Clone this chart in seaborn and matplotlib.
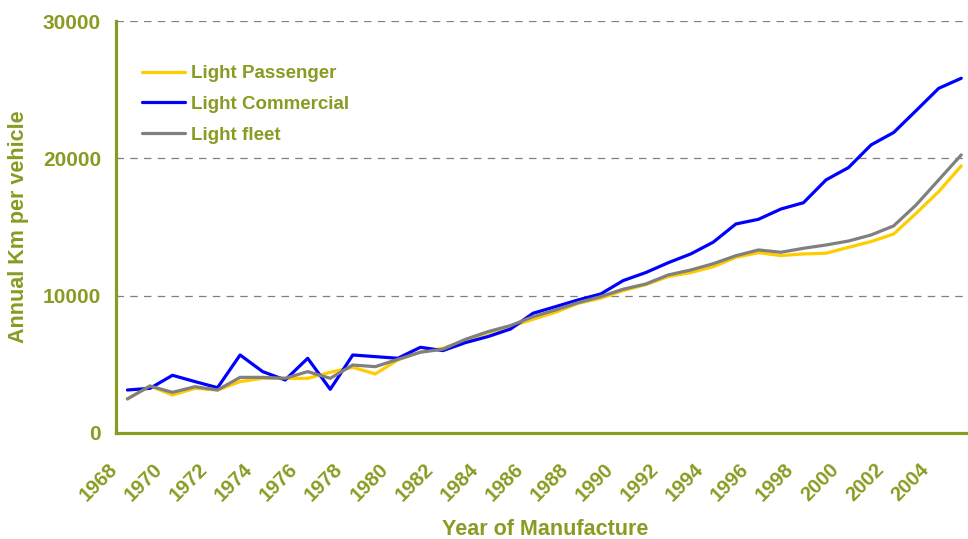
import numpy as np
import pandas as pd
import matplotlib
matplotlib.use("Agg")
import matplotlib.pyplot as plt
import matplotlib.transforms as mtransforms
import seaborn as sns

# data
years = list(range(1968, 2006))
light_passenger = [2500, 3420, 2770, 3250, 3130, 3740, 3980, 3980, 3980, 4420,
                   4780, 4300, 5320, 5900, 6170, 6750, 7300, 7750, 8280, 8790,
                   9440, 9810, 10370, 10800, 11390, 11680, 12110, 12790, 13130, 12920,
                   13040, 13090, 13520, 13940, 14490, 16000, 17580, 19450]
light_commercial = [3130, 3250, 4200, 3740, 3300, 5680, 4470, 3860, 5440, 3180,
                    5680, 5560, 5440, 6240, 6000, 6580, 7020, 7570, 8720, 9200,
                    9690, 10120, 11100, 11680, 12400, 13040, 13900, 15220, 15560, 16310,
                    16770, 18430, 19330, 20980, 21880, 23480, 25100, 25830]
light_fleet = [2475, 3420, 2960, 3370, 3130, 4050, 4050, 3980, 4470, 3980,
               4950, 4830, 5360, 5880, 6100, 6820, 7380, 7820, 8470, 8960,
               9490, 9930, 10470, 10850, 11510, 11870, 12330, 12910, 13330, 13160,
               13450, 13690, 13980, 14420, 15080, 16610, 18430, 20250]
series_names = ["Light Passenger", "Light Commercial", "Light fleet"]
series_colors = ["#FFCC00", "#0000FF", "#808080"]

df = pd.DataFrame({"year": years,
                   "Light Passenger": light_passenger,
                   "Light Commercial": light_commercial,
                   "Light fleet": light_fleet})
long_df = df.melt(id_vars="year", var_name="series", value_name="km")

olive = "#8A9A22"

sns.set_style("white")
plt.rcParams["font.family"] = ["Liberation Sans", "DejaVu Sans"]

fig = plt.figure(figsize=(9.68, 5.39), dpi=100)
ax = fig.add_axes([0.12, 0.1967, 0.88, 0.7643])

sns.lineplot(data=long_df, x="year", y="km", hue="series", hue_order=series_names,
             palette=series_colors, linewidth=2.3, ax=ax)

ax.set_xlim(1967.5, 2005.3)
ax.set_ylim(0, 30000)

# gridlines
ax.set_yticks([0, 10000, 20000, 30000])
ax.yaxis.grid(True, linestyle=(0, (6, 5)), color="#808080", linewidth=0.9)
ax.set_axisbelow(True)

# x ticks: marks between categories, labels on even years (drawn as text, Excel style)
ax.set_xticks(np.arange(1967.5, 2005.5, 1.0))
ax.set_xticklabels([])
shift = mtransforms.ScaledTranslation(-6 / 100, -27 / 100, fig.dpi_scale_trans)
for y in years[::2]:
    ax.text(y, 0, str(y), transform=ax.get_xaxis_transform() + shift,
            rotation=45, ha="right", va="top", fontsize=14.5,
            fontweight="bold", color=olive, clip_on=False)
ax.tick_params(axis="x", which="major", direction="out", length=6, width=2, color=olive)
ax.tick_params(axis="y", direction="out", length=6, width=2, color=olive,
               labelsize=15, labelcolor=olive, pad=5)
for lab in ax.get_yticklabels():
    lab.set_fontweight("bold")

for s in ["top", "right"]:
    ax.spines[s].set_visible(False)
for s in ["left", "bottom"]:
    ax.spines[s].set_color(olive)
    ax.spines[s].set_linewidth(2.3)

ax.set_xlabel("Year of Manufacture", fontsize=15.5, fontweight="bold", color=olive)
ax.xaxis.set_label_coords(0.504, -0.209)
ax.set_ylabel("Annual Km per vehicle", fontsize=15.5, fontweight="bold", color=olive, labelpad=10)

leg = ax.legend(loc="upper left", bbox_to_anchor=(0.139, 0.893), bbox_transform=fig.transFigure,
                frameon=False, fontsize=13.5, handlelength=2.3, handletextpad=0.3,
                labelspacing=0.72, borderaxespad=0)
for t in leg.get_texts():
    t.set_color(olive)
    t.set_fontweight("bold")
for line in leg.get_lines():
    line.set_linewidth(2.3)

fig.savefig("out.png", dpi=100)
